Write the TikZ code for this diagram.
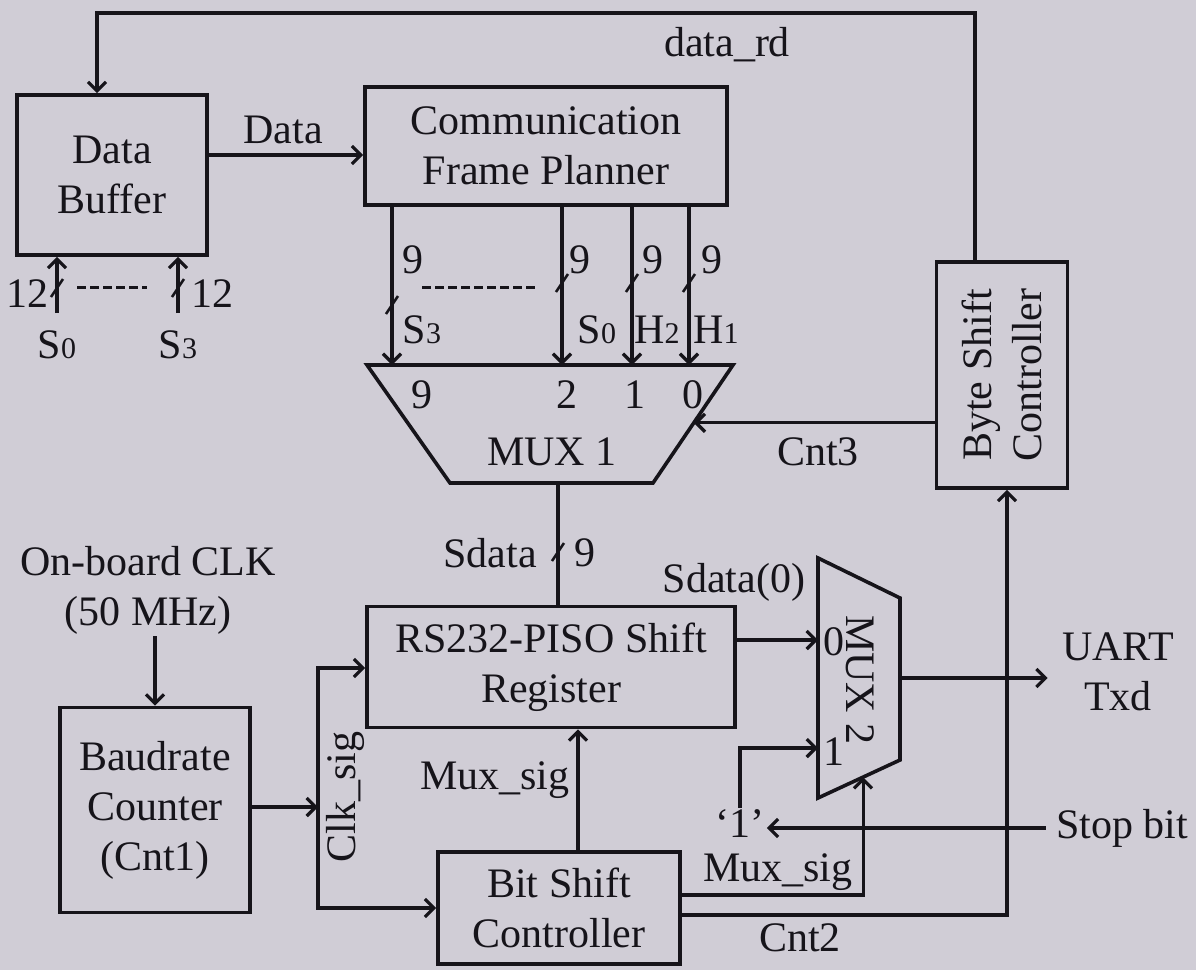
\documentclass[tikz,border=0pt]{standalone}
\usepackage{fontspec}
\setmainfont{Liberation Serif}
\usepackage{xcolor}
\usepackage{tikz}
\usetikzlibrary{arrows.meta, calc}

\definecolor{paper}{RGB}{208,205,214}
\definecolor{ink}{RGB}{22,20,26}
\newcommand{\lowidx}[1]{{\fontsize{15}{15}\selectfont #1}}

\begin{document}
\begin{tikzpicture}[x=0.5pt, y=-0.5pt,
  every node/.style={font=\fontsize{21}{25}\selectfont, text=ink, inner sep=1pt},
  blk/.style={draw=ink, line width=1.8pt, align=center},
  wire/.style={draw=ink, line width=1.6pt},
  sig/.style={wire, -{Straight Barb[length=4.5pt, width=9pt]}},
  bus/.style={draw=ink, line width=1.3pt},
  dots/.style={draw=ink, line width=1.5pt, dash pattern=on 4.5pt off 2pt}]

  \fill[paper] (0,0) rectangle (1196,970);
  \useasboundingbox (0,0) rectangle (1196,970);

  % blocks
  \node[blk, minimum width=95pt, minimum height=80pt] (buf) at (112,175) {Data\\Buffer};
  \node[blk, minimum width=181pt, minimum height=59pt] (cfp) at (546,146) {Communication\\Frame Planner};
  \node[blk, minimum width=65.5pt, minimum height=113pt] (bsc) at (1002,375) {};
  \node[rotate=90, align=center] (bsctxt) at (bsc) {Byte Shift\\Controller};
  \node[blk, minimum width=184pt, minimum height=60.5pt] (piso) at (551,667) {RS232-PISO Shift\\Register};
  \node[blk, minimum width=95pt, minimum height=102.5pt] (baud) at (155,810) {Baudrate\\Counter\\(Cnt1)};
  \node[blk, minimum width=121pt, minimum height=56pt] (bitc) at (559,908) {Bit Shift\\Controller};

  % MUX 1
  \coordinate (m1tl) at (367,365);
  \coordinate (m1tr) at (733,365);
  \coordinate (m1br) at (653,483);
  \coordinate (m1bl) at (450,483);
  \draw[wire, line width=1.8pt] (m1tl) -- (m1tr) -- (m1br) -- (m1bl) -- cycle;
  \node (mux1) at (552,452) {MUX 1};
  \foreach \x/\d in {422/9, 567/2, 635/1, 693/0}
    \node (m1n\d) at (\x,395) {\d};

  % frame planner -> MUX 1
  \foreach \x/\n in {392/a, 562/b, 632/c, 689/d} {
    \coordinate (m1\n) at (\x,365);
    \draw[sig] (cfp.south -| m1\n) -- (m1\n);
  }
  \foreach \x/\n in {413/a, 580/b, 653/c, 712/d}
    \node (w\n) at (\x,260) {9};
  \node (lS3) at (422,330) {S\lowidx{3}};
  \node (lS0) at (597,330) {S\lowidx{0}};
  \node (lH2) at (657,330) {H\lowidx{2}};
  \node (lH1) at (716,330) {H\lowidx{1}};
  \draw[dots] (422,287) -- (537,287);

  % bus widths
  \foreach \x/\y in {392/305, 562/283, 632/283, 689/283, 57/288, 178/288, 558/552}
    \draw[bus] (\x,\y) ++(-6,9) -- ++(12,-18);

  % buffer inputs
  \coordinate (in0) at (57,313);
  \coordinate (in3) at (178,313);
  \draw[sig] (in0) -- (buf.south -| in0);
  \draw[sig] (in3) -- (buf.south -| in3);
  \node (w12a) at (27,294) {12};
  \node (w12b) at (212,294) {12};
  \draw[dots] (77,287) -- (147,287);
  \node (s0) at (57,345) {S\lowidx{0}};
  \node (s3) at (178,345) {S\lowidx{3}};

  % data path
  \coordinate (datay) at (300,155);
  \draw[sig] (buf.east |- datay) -- (cfp.west |- datay);
  \node (ldata) at (283,130) {Data};

  \coordinate (rdtop) at (540,13);
  \draw[sig] ([xshift=-13.5pt]bsc.north) |- (rdtop) -| ([xshift=-7.5pt]buf.north);
  \node (lrd) at (727,45) {data\_rd};

  \coordinate (m1sel) at ($(m1tr)!0.49!(m1br)$);
  \draw[sig] (bsc.west |- m1sel) -- (m1sel);
  \node (lcnt3) at (818,452) {Cnt3};

  \coordinate (m1out) at (558,483);
  \draw[wire] (m1out) -- (piso.north -| m1out);
  \node (lsdata) at (490,553) {Sdata};
  \node (w9) at (585,553) {9};

  % MUX 2
  \coordinate (m2tl) at (818,558);
  \coordinate (m2tr) at (900,598);
  \coordinate (m2br) at (900,760);
  \coordinate (m2bl) at (818,798);
  \draw[wire, line width=1.8pt] (m2tl) -- (m2tr) -- (m2br) -- (m2bl) -- cycle;
  \node[rotate=-90] (mux2) at (860,680) {MUX 2};
  \node (m2n0) at (834,642) {0};
  \node (m2n1) at (834,752) {1};
  \coordinate (m2in0) at (818,640);
  \coordinate (m2in1) at (818,748);
  \coordinate (m2out) at (900,678);
  \coordinate (m2sel) at ($(m2bl)!0.55!(m2br)$);
  \node (lsd0) at (734,582) {Sdata(0)};

  \draw[sig] (piso.east |- m2in0) -- (m2in0);
  \node[inner sep=7pt, align=center] (uart) at (1118,672) {UART\\Txd};
  \draw[sig] (m2out) -- (uart.west |- m2out);

  \node (one) at (740,824) {`1'};
  \node[inner sep=5pt] (stop) at (1122,828) {Stop bit};
  \draw[sig] (stop.west) -- (stop.west -| one.east);
  \draw[sig] (one.north) |- (m2in1);

  \draw[sig] ([yshift=6.5pt]bitc.east) -| (m2sel);
  \node (lmux2) at (778,872) {Mux\_sig};
  \draw[sig] ([yshift=-3.5pt]bitc.east) -| ([xshift=2.5pt]bsc.south);
  \node (lcnt2) at (800,938) {Cnt2};

  \draw[sig] ([xshift=9.5pt]bitc.north) -- ([xshift=9.5pt]bitc.north |- piso.south);
  \node (lmux1) at (495,780) {Mux\_sig};

  % clock
  \node[align=center] (clk) at (148,590) {On-board CLK\\(50 MHz)};
  \draw[sig] (clk.south -| baud.north) -- (baud.north);
  \coordinate (clkv) at (318,807);
  \coordinate (clkt) at (318,668);
  \coordinate (clkb) at (318,908);
  \draw[sig] (baud.east |- clkv) -- (clkv);
  \draw[sig] (clkv) |- (piso.west |- clkt);
  \draw[sig] (clkv) |- (bitc.west |- clkb);
  \node[rotate=90] (lclk) at (345,797) {Clk\_sig};
\end{tikzpicture}
\end{document}
